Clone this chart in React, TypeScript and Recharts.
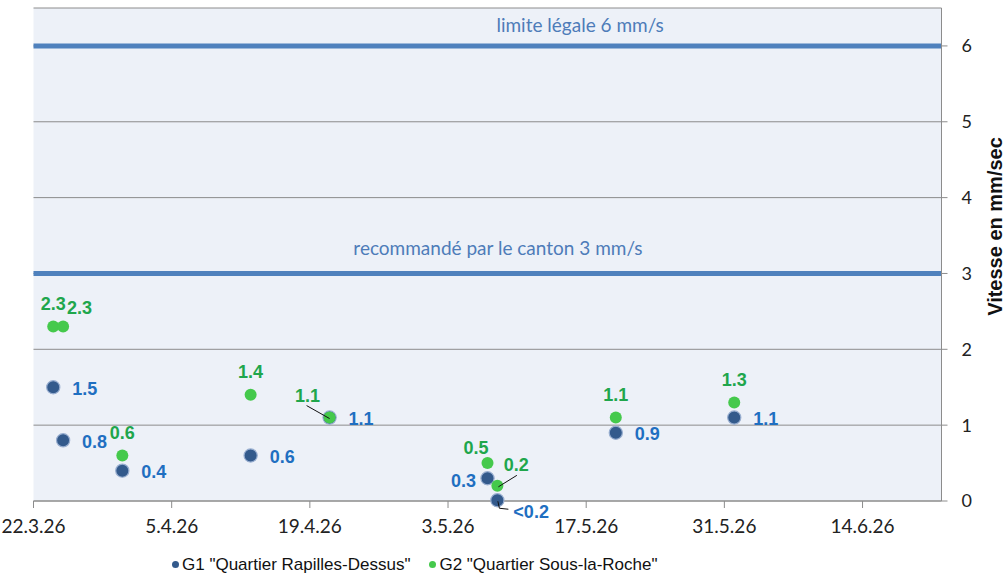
import {
  CartesianGrid,
  Legend,
  ReferenceLine,
  Scatter,
  ScatterChart,
  XAxis,
  YAxis,
} from "recharts";

// Measurement dates (d.m.yy) shared by both sensors
const measureDates = ["24.3.26", "25.3.26", "31.3.26", "13.4.26", "21.4.26", "7.5.26", "8.5.26", "20.5.26", "1.6.26"];
// Peak vibration speed in mm/s; the 0.01 reading is shown as "<0.2"
const g1Values = [1.5, 0.8, 0.4, 0.6, 1.1, 0.3, 0.01, 0.9, 1.1];
const g2Values = [2.3, 2.3, 0.6, 1.4, 1.1, 0.5, 0.2, 1.1, 1.3];

const g1Name = 'G1 "Quartier Rapilles-Dessus"';
const g2Name = 'G2 "Quartier Sous-la-Roche"';

const tickDates = ["22.3.26", "5.4.26", "19.4.26", "3.5.26", "17.5.26", "31.5.26", "14.6.26"];
const axisStart = "22.3.26";
const axisEnd = "22.6.26";
const yTicks = [0, 1, 2, 3, 4, 5, 6];
const yTitle = "Vitesse en mm/sec";

const legalLimit = 6;
const legalLimitText = "limite légale 6 mm/s";
const cantonLimit = 3;
const cantonLimitText = "recommandé par le canton 3 mm/s";

const DAY = 86400000;
function parseDate(s: string) {
  const [d, m, y] = s.split(".").map(Number);
  return Date.UTC(2000 + y, m - 1, d);
}
const toDay = (s: string) => Math.round((parseDate(s) - parseDate(axisStart)) / DAY);

const g1Data = measureDates.map((d, i) => ({ day: toDay(d), value: g1Values[i], i }));
const g2Data = measureDates.map((d, i) => ({ day: toDay(d), value: g2Values[i], i }));
const tickDays = tickDates.map(toDay);

const W = 1008;
const H = 580;
const GRID = "#8c8c8c";
const LIMIT_BLUE = "#4f81bd";
const TEXT_BLUE = "#1f6fc1";
const TEXT_GREEN = "#20a64c";
const DOT_BLUE = "#335a8c";
const DOT_GREEN = "#45c94c";
const ARIAL = "'Liberation Sans', Arial, sans-serif";
const CALIBRI_LIKE = "Lato, 'Open Sans', sans-serif";

type Placement = {
  dx: number;
  dy: number;
  anchor: "start" | "middle" | "end";
  leader?: [number, number][];
};

// where each value label sits relative to its dot
const g1Default: Placement = { dx: 19, dy: 1, anchor: "start" };
const g1Special: Record<number, Placement> = {
  5: { dx: -11.5, dy: 2, anchor: "end" },
  6: { dx: 16, dy: 11, anchor: "start", leader: [[0.5, 1], [2, 8], [11, 9]] },
};
const g2Default: Placement = { dx: 0, dy: -23, anchor: "middle" };
const g2Special: Record<number, Placement> = {
  1: { dx: 16.5, dy: -19, anchor: "middle" },
  4: { dx: -22, dy: -22, anchor: "middle", leader: [[-23, -12], [0, 1]] },
  5: { dx: -11.5, dy: -16, anchor: "middle" },
  6: { dx: 19, dy: -21, anchor: "middle", leader: [[19.5, -10.5], [1, 1]] },
};

const formatValue = (v: number) => (v < 0.2 ? "<0.2" : v.toFixed(1));

function makeShape(
  r: number,
  fill: string,
  stroke: string,
  strokeWidth: number,
  textColor: string,
  base: Placement,
  special: Record<number, Placement>
) {
  return (props: any) => {
    const { cx, cy, payload } = props;
    const p = special[payload.i] ?? base;
    return (
      <g>
        <circle cx={cx} cy={cy} r={r} fill={fill} stroke={stroke} strokeWidth={strokeWidth} />
        {p.leader ? (
          <polyline
            points={p.leader.map(([x, y]) => `${cx + x},${cy + y}`).join(" ")}
            fill="none"
            stroke="#111"
            strokeWidth={1}
          />
        ) : null}
        <text
          x={cx + p.dx}
          y={cy + p.dy}
          dy="0.36em"
          textAnchor={p.anchor}
          fill={textColor}
          fontSize={18}
          fontWeight="bold"
          fontFamily={ARIAL}
        >
          {formatValue(payload.value)}
        </text>
      </g>
    );
  };
}

function limitLabel(text: string, at: number, lift: number) {
  return (props: any) => {
    const { viewBox } = props;
    return (
      <text
        x={viewBox.x + viewBox.width * at}
        y={viewBox.y - lift}
        dy="0.36em"
        textAnchor="middle"
        fill="#4e7cb9"
        fontSize={19}
        fontFamily={CALIBRI_LIKE}
      >
        {text}
      </text>
    );
  };
}

function LegendBox() {
  const item = (color: string, text: string) => (
    <span style={{ display: "inline-flex", alignItems: "center", marginRight: 19 }}>
      <span
        style={{
          display: "inline-block",
          width: 7,
          height: 7,
          borderRadius: "50%",
          background: color,
          marginRight: 3,
        }}
      />
      {text}
    </span>
  );
  return (
    <div
      style={{
        height: 31,
        lineHeight: "31px",
        paddingLeft: 172,
        fontSize: 17,
        color: "#111",
        fontFamily: ARIAL,
        display: "flex",
        alignItems: "center",
      }}
    >
      {item(DOT_BLUE, g1Name)}
      {item(DOT_GREEN, g2Name)}
    </div>
  );
}

export default function App() {
  return (
    <div style={{ position: "absolute", left: 0, top: 0, width: W, height: H, fontFamily: ARIAL }}>
      <ScatterChart width={W} height={H} margin={{ top: 8, right: 0, left: 33.5, bottom: 0 }}>
        <CartesianGrid horizontal vertical={false} stroke={GRID} fill="#edf1f8" fillOpacity={1} />
        <XAxis
          type="number"
          dataKey="day"
          domain={[0, toDay(axisEnd)]}
          ticks={tickDays}
          tickFormatter={(d: number) => tickDates[tickDays.indexOf(d)] ?? ""}
          height={48}
          axisLine={{ stroke: GRID }}
          tickLine={{ stroke: GRID }}
          tickSize={7}
          tickMargin={12}
          tick={{ fill: "#222", fontSize: 19, fontFamily: CALIBRI_LIKE }}
          interval={0}
        />
        <YAxis
          type="number"
          dataKey="value"
          orientation="right"
          domain={[0, 6.5]}
          ticks={yTicks}
          width={66.5}
          axisLine={{ stroke: GRID }}
          tickLine={{ stroke: GRID }}
          tickSize={6}
          tickMargin={14}
          tick={{ fill: "#222", fontSize: 18, fontFamily: CALIBRI_LIKE }}
          interval={0}
        />
        <ReferenceLine
          y={legalLimit}
          stroke={LIMIT_BLUE}
          strokeWidth={5}
          label={limitLabel(legalLimitText, 0.602, 21)}
        />
        <ReferenceLine
          y={cantonLimit}
          stroke={LIMIT_BLUE}
          strokeWidth={5}
          label={limitLabel(cantonLimitText, 0.5115, 25)}
        />
        <Scatter
          name={g1Name}
          data={g1Data}
          isAnimationActive={false}
          shape={makeShape(6.6, DOT_BLUE, "#98aed0", 1.2, TEXT_BLUE, g1Default, g1Special)}
        />
        <Scatter
          name={g2Name}
          data={g2Data}
          isAnimationActive={false}
          shape={makeShape(6, DOT_GREEN, "none", 0, TEXT_GREEN, g2Default, g2Special)}
        />
        <Legend verticalAlign="bottom" wrapperStyle={{ left: 0, width: W }} content={<LegendBox />} />
        {/* rotated y-axis title on the right */}
        <text
          x={995}
          y={226.5}
          transform="rotate(-90, 995, 226.5)"
          dy="0.36em"
          textAnchor="middle"
          fontSize={20}
          fontWeight="bold"
          fill="#111"
          fontFamily={ARIAL}
        >
          {yTitle}
        </text>
      </ScatterChart>
    </div>
  );
}
